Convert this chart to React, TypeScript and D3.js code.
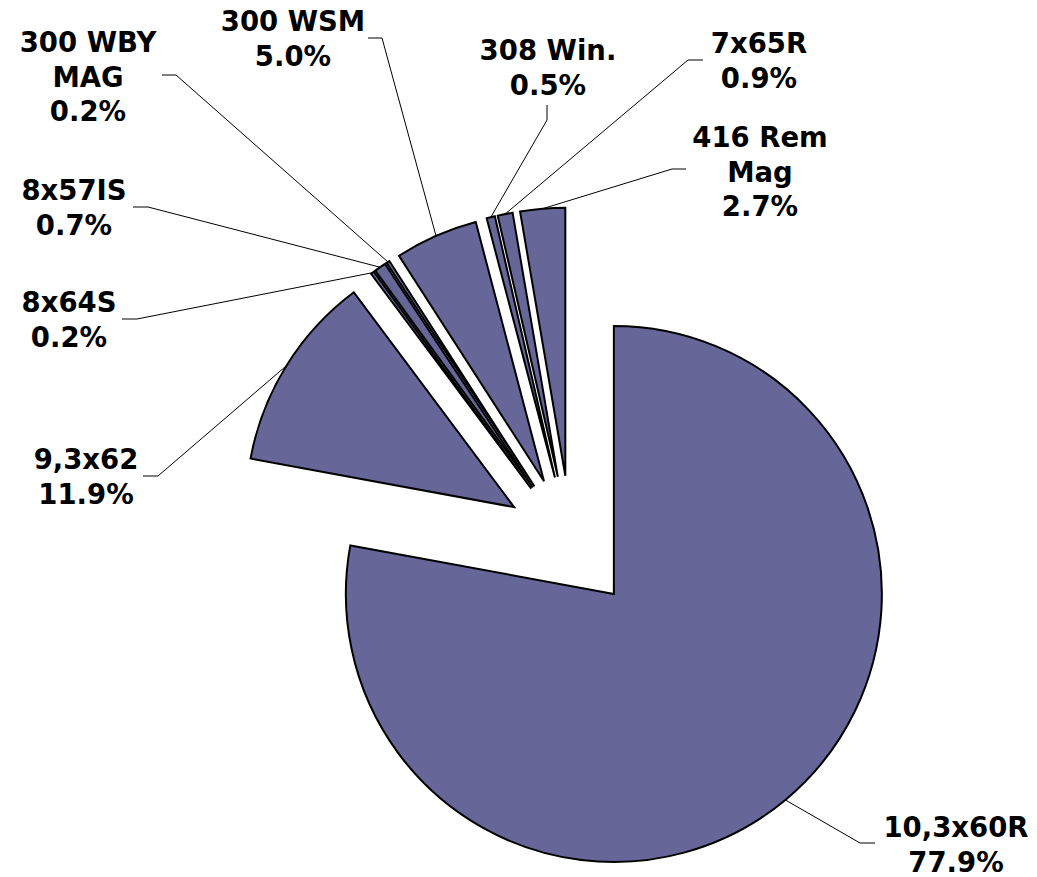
import React, { useRef, useEffect } from "react";
import * as d3 from "d3";

// cartridge calibres, clockwise from 12 o'clock
const categories = [
  "10,3x60R",
  "9,3x62",
  "8x64S",
  "8x57IS",
  "300 WBY MAG",
  "300 WSM",
  "308 Win.",
  "7x65R",
  "416 Rem Mag",
];
const shares = [77.9, 11.9, 0.2, 0.7, 0.2, 5.0, 0.5, 0.9, 2.7];
// how the category names wrap in the labels
const labelLines = [
  ["10,3x60R"],
  ["9,3x62"],
  ["8x64S"],
  ["8x57IS"],
  ["300 WBY", "MAG"],
  ["300 WSM"],
  ["308 Win."],
  ["7x65R"],
  ["416 Rem", "Mag"],
];

// label placement (manually dragged in the original): text centre, first baseline, leader elbow + end
const labelPos = [
  { x: 956, y: 837, elbow: [860, 843], end: [875, 843] },
  { x: 86, y: 469, elbow: [158, 476], end: [143, 476] },
  { x: 69, y: 312, elbow: [137, 319], end: [122, 319] },
  { x: 74, y: 200, elbow: [148, 207], end: [133, 207] },
  { x: 88, y: 52, elbow: [176, 75], end: [162, 75] },
  { x: 293, y: 31, elbow: [382, 38], end: [368, 38] },
  { x: 548, y: 60, elbow: [547, 120], end: [547, 105] },
  { x: 759, y: 53, elbow: [688, 60], end: [703, 60] },
  { x: 760, y: 147, elbow: [672, 169], end: [686, 169] },
];

const WIDTH = 1037;
const HEIGHT = 877;

const App = () => {
  const svgRef = useRef<SVGSVGElement>(null);

  useEffect(() => {
    const svg = d3.select(svgRef.current);
    svg.selectAll("*").remove();

    const cx = 571;
    const cy = 542.5;
    const radius = 268;
    const explode = 67;
    const fontSize = 27.5;
    const lineHeight = 34.5;

    const pie = d3
      .pie<number>()
      .sort(null)
      .value((d) => d);
    const arcs = pie(shares);

    const arc = d3
      .arc<d3.PieArcDatum<number>>()
      .innerRadius(0)
      .outerRadius(radius);

    const mid = (d: d3.PieArcDatum<number>) => (d.startAngle + d.endAngle) / 2;

    // --- slices, each pushed out along its bisector ---
    const g = svg.append("g").attr("transform", `translate(${cx},${cy})`);
    g.selectAll("path")
      .data(arcs)
      .join("path")
      .attr("transform", (d) => {
        const a = mid(d);
        return `translate(${Math.sin(a) * explode},${-Math.cos(a) * explode})`;
      })
      .attr("d", arc)
      .attr("fill", "#666699")
      .attr("stroke", "#000")
      .attr("stroke-width", 2)
      .attr("stroke-linejoin", "miter");

    // --- leader lines ---
    const line = d3.line();
    svg
      .append("g")
      .selectAll("path")
      .data(arcs)
      .join("path")
      .attr("d", (d, i) => {
        const a = mid(d);
        const r = explode + radius;
        const p: [number, number] = [cx + Math.sin(a) * r, cy - Math.cos(a) * r];
        const pos = labelPos[i];
        return line([p, pos.elbow as [number, number], pos.end as [number, number]]);
      })
      .attr("fill", "none")
      .attr("stroke", "#000")
      .attr("stroke-width", 1);

    // --- labels ---
    const pct = d3.format(".1f");
    const labels = svg
      .append("g")
      .selectAll("text")
      .data(arcs)
      .join("text")
      .attr("text-anchor", "middle")
      .attr("x", (d, i) => labelPos[i].x)
      .attr("y", (d, i) => labelPos[i].y)
      .style("font-family", "'DejaVu Sans', Verdana, sans-serif")
      .style("font-weight", "bold")
      .style("font-size", `${fontSize}px`)
      .attr("fill", "#000");

    labels.each(function (d, i) {
      const lines = [...labelLines[i], `${pct(shares[i])}%`];
      d3.select(this)
        .selectAll("tspan")
        .data(lines)
        .join("tspan")
        .attr("x", labelPos[i].x)
        .attr("dy", (t, j) => (j === 0 ? 0 : lineHeight))
        .text((t) => t);
    });
  }, []);

  return (
    <div style={{ position: "absolute", left: 0, top: 0 }}>
      <svg
        ref={svgRef}
        width={WIDTH}
        height={HEIGHT}
        viewBox={`0 0 ${WIDTH} ${HEIGHT}`}
        style={{ display: "block", background: "#fff" }}
        aria-label={categories.join(", ")}
      ></svg>
    </div>
  );
};

export default App;
